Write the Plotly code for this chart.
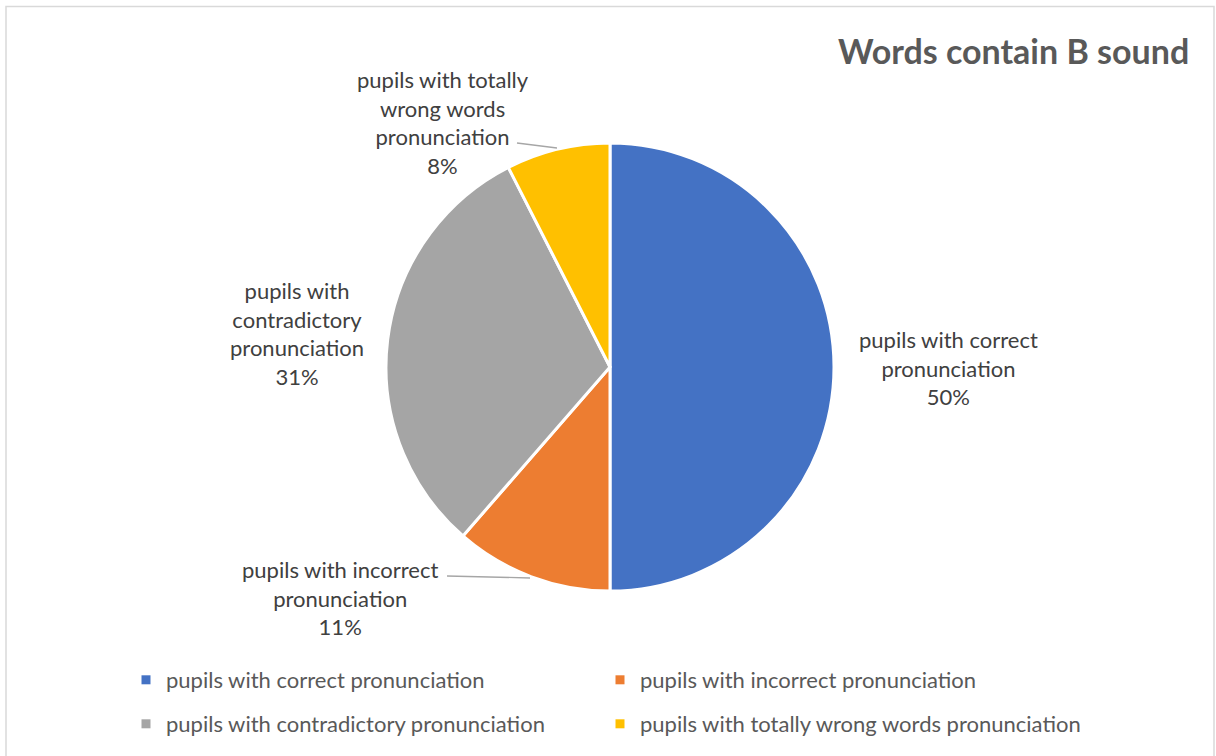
import plotly.graph_objects as go

W, H = 1216, 756

categories = [
    "pupils with correct pronunciation",
    "pupils with incorrect pronunciation",
    "pupils with contradictory pronunciation",
    "pupils with totally wrong words pronunciation",
]
values = [50, 11.4, 31.1, 7.5]
colors = ["#4472C4", "#ED7D31", "#A5A5A5", "#FFC000"]
label_lines = [
    ["pupils with correct", "pronunciation"],
    ["pupils with incorrect", "pronunciation"],
    ["pupils with", "contradictory", "pronunciation"],
    ["pupils with totally", "wrong words", "pronunciation"],
]
title_text = "Words contain B sound"


def px(x):
    return x / W


def py(y):
    return 1 - y / H


# pie geometry (pixels)
cx, cy, r = 610, 367, 224

fig = go.Figure()
fig.add_trace(go.Pie(
    labels=categories,
    values=values,
    sort=False,
    direction="clockwise",
    rotation=0,
    marker=dict(colors=colors, line=dict(color="white", width=3)),
    textinfo="none",
    hoverinfo="label+percent",
    showlegend=False,
    domain=dict(x=[px(cx - r), px(cx + r)], y=[py(cy + r), py(cy - r)]),
))

# legend entries: one legend box per entry, laid out 2 x 2
legend_ids = ["legend", "legend2", "legend3", "legend4"]
legend_xy = [(126, 680), (600, 680), (126, 724), (600, 724)]
for name, col, lg in zip(categories, colors, legend_ids):
    fig.add_trace(go.Scatter(
        x=[None], y=[None], mode="markers", name=name,
        marker=dict(symbol="square", size=9, color=col),
        legend=lg, showlegend=True,
    ))

total = sum(values)
pct = [f"{round(v / total * 100)}%" for v in values]

# label positions (centre of text block, pixels)
label_pos = [(948, 368), (340, 598), (297, 333), (443, 122)]
label_font = dict(family="Lato", size=22, color="#404040")
for lines, p, (lx, ly) in zip(label_lines, pct, label_pos):
    fig.add_annotation(
        x=px(lx), y=py(ly), xref="paper", yref="paper",
        text="<br>".join(lines + [p]), showarrow=False,
        xanchor="center", yanchor="middle", align="center",
        font=label_font,
    )

# leader lines
leaders = [((517, 143), (557, 148)), ((447, 576), (530, 578))]
for (x0, y0), (x1, y1) in leaders:
    fig.add_shape(type="line", xref="paper", yref="paper",
                  x0=px(x0), y0=py(y0), x1=px(x1), y1=py(y1),
                  line=dict(color="#A6A6A6", width=1.3))

# chart border
fig.add_shape(type="rect", xref="paper", yref="paper",
              x0=px(6), y0=py(800), x1=px(1214), y1=py(6.5),
              line=dict(color="#D9D9D9", width=1.5), layer="below")

fig.add_annotation(
    x=px(1191), y=py(50), xref="paper", yref="paper",
    text=f"<b>{title_text}</b>", showarrow=False,
    xanchor="right", yanchor="middle",
    font=dict(family="Lato", size=34, color="#595959"),
)

legend_common = dict(
    orientation="v", xanchor="left", yanchor="middle",
    font=dict(family="Lato", size=22, color="#595959"),
    bgcolor="rgba(0,0,0,0)", itemclick=False, itemdoubleclick=False,
)
layout_legends = {
    lg: dict(x=px(lx), y=py(ly), **legend_common)
    for lg, (lx, ly) in zip(legend_ids, legend_xy)
}
fig.update_layout(
    width=W, height=H,
    margin=dict(l=0, r=0, t=0, b=0),
    paper_bgcolor="white", plot_bgcolor="white",
    xaxis=dict(visible=False), yaxis=dict(visible=False),
    **layout_legends,
)

fig.write_html("out.html")
